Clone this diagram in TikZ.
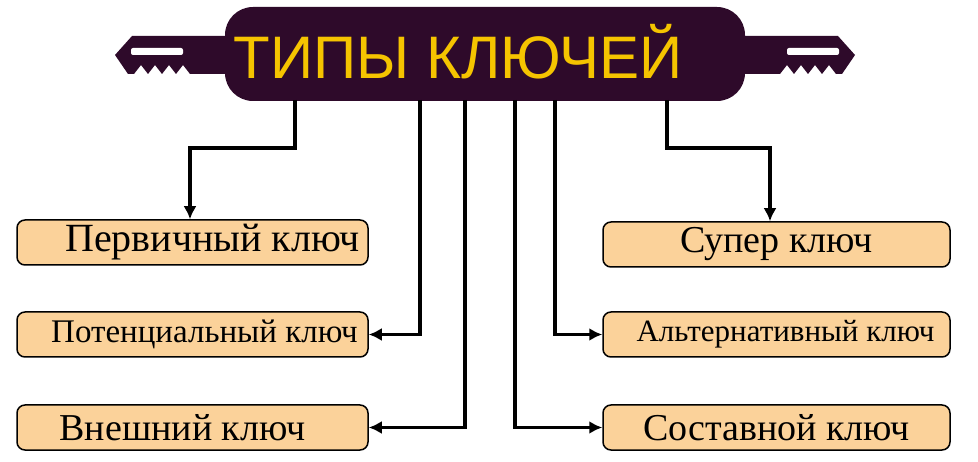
\documentclass[tikz,border=0pt]{standalone}
\usepackage{fontspec}
\setmainfont{Liberation Serif}
\newfontfamily\titlefont{Liberation Sans}
\usetikzlibrary{arrows.meta}
\definecolor{keyc}{HTML}{2E0A2A}
\definecolor{boxc}{HTML}{FBD29A}
\definecolor{titc}{HTML}{F5C400}
\begin{document}
\begin{tikzpicture}[x=1pt,y=-1pt,
 box/.style={draw=black,line width=1.5pt,fill=boxc,rounded corners=8pt,minimum height=45pt,inner sep=0pt},
 big/.style={font=\fontsize{40}{40}\selectfont},
 mid/.style={font=\fontsize{38}{38}\selectfont},
 small/.style={font=\fontsize{33}{33}\selectfont},
 conn/.style={line width=3.2pt,-{Latex[length=13pt,width=13pt]}}]
\useasboundingbox (0,0) rectangle (978,462);
% key shafts
\fill[keyc] (230,36) -- (132,36) -- (115,55) -- (128,74) -- (134,74) -- (141,65) -- (148,74) -- (155,65) -- (162,74) -- (169,65) -- (176,74) -- (183,65) -- (190,74) -- (230,74) -- cycle;
\fill[white,rounded corners=2pt] (131,48) rectangle (183,55);
\fill[keyc] (740,36) -- (838,36) -- (855,55) -- (842,74) -- (836,74) -- (829,65) -- (822,74) -- (815,65) -- (808,74) -- (801,65) -- (794,74) -- (787,65) -- (780,74) -- (740,74) -- cycle;
\fill[white,rounded corners=2pt] (787,48) rectangle (839,55);
\node[fill=keyc,rounded corners=28pt,minimum width=520pt,minimum height=94pt,inner sep=0pt] (key) at (485,54) {};
\node[text=titc,font=\titlefont\fontsize{60}{60}\selectfont] (title) at (458,52) {ТИПЫ КЛЮЧЕЙ};
\node[box,minimum width=351pt,label={[big,xshift=20pt]center:Первичный ключ}] (b1) at (192.5,242.5) {};
\node[box,minimum width=351pt,label={[small,xshift=12pt]center:Потенциальный ключ}] (b2) at (192.5,334.5) {};
\node[box,minimum width=351pt,label={[mid,xshift=-10pt]center:Внешний ключ}] (b3) at (192.5,427.5) {};
\node[box,minimum width=347pt,label={[mid]center:Супер ключ}] (b4) at (776.5,244.5) {};
\node[box,minimum width=347pt,label={[font=\fontsize{31}{31}\selectfont,xshift=9pt]center:Альтернативный ключ}] (b5) at (776.5,334.5) {};
\node[box,minimum width=347pt,label={[mid]center:Составной ключ}] (b6) at (776.5,427.5) {};
\draw[conn] (295,100) |- (190,148) -- (b1.north -| 190,0);
\draw[conn] (420,100) |- (b2.east);
\draw[conn] (465,100) |- (b3.east);
\draw[conn] (515,100) |- (b6.west);
\draw[conn] (555,100) |- (b5.west);
\draw[conn] (667,100) |- (770,148) -- (b4.north -| 770,0);
\end{tikzpicture}
\end{document}
